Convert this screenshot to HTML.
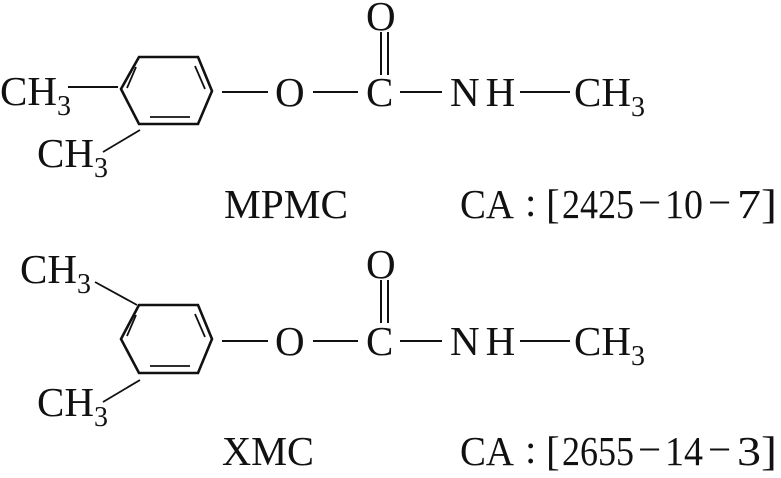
<!DOCTYPE html>
<html><head><meta charset="utf-8"><style>
html,body{margin:0;padding:0;background:#fff;}
svg{display:block;}
text{font-family:"Liberation Serif",serif;fill:#111;}
</style></head><body>
<svg width="781" height="478" viewBox="0 0 781 478" xmlns="http://www.w3.org/2000/svg">
<g stroke="#111" fill="none" stroke-width="2.6" stroke-linejoin="miter">
  <polygon points="139,57 198,57 212,91 198,124 139,124 121,89"/>
  <line x1="136" y1="67" x2="127" y2="88" stroke-width="1.8"/>
  <line x1="195" y1="66" x2="205" y2="89" stroke-width="1.8"/>
  <line x1="150" y1="117" x2="190" y2="117" stroke-width="1.8"/>
  <line x1="68" y1="87" x2="118" y2="87" stroke-width="2"/>
  <line x1="140" y1="130" x2="103" y2="152" stroke-width="1.8"/>
  <line x1="222" y1="92" x2="268" y2="92" stroke-width="2"/>
  <line x1="313" y1="92" x2="358" y2="92" stroke-width="2"/>
  <line x1="381" y1="32" x2="381" y2="75" stroke-width="2"/>
  <line x1="388" y1="32" x2="388" y2="75" stroke-width="2"/>
  <line x1="400" y1="92" x2="442" y2="92" stroke-width="2"/>
  <line x1="520" y1="92" x2="570" y2="92" stroke-width="2"/>

  <polygon points="139,305 198,305 212,339 198,373 139,373 121,339"/>
  <line x1="136" y1="315" x2="127" y2="336" stroke-width="1.8"/>
  <line x1="195" y1="314" x2="205" y2="337" stroke-width="1.8"/>
  <line x1="150" y1="366" x2="190" y2="366" stroke-width="1.8"/>
  <line x1="95" y1="282" x2="137" y2="305" stroke-width="1.8"/>
  <line x1="140" y1="380" x2="103" y2="402" stroke-width="1.8"/>
  <line x1="222" y1="341" x2="268" y2="341" stroke-width="2"/>
  <line x1="313" y1="341" x2="358" y2="341" stroke-width="2"/>
  <line x1="381" y1="280" x2="381" y2="323" stroke-width="2"/>
  <line x1="388" y1="280" x2="388" y2="323" stroke-width="2"/>
  <line x1="400" y1="341" x2="442" y2="341" stroke-width="2"/>
  <line x1="520" y1="341" x2="570" y2="341" stroke-width="2"/>
</g>
<g font-size="41">
  <text x="0" y="105">CH<tspan font-size="28" dy="10">3</tspan></text>
  <text x="37" y="167">CH<tspan font-size="28" dy="10">3</tspan></text>
  <text x="275" y="106">O</text>
  <text x="366" y="30">O</text>
  <text x="366" y="106">C</text>
  <text x="450" y="106" letter-spacing="6">NH</text>
  <text x="574" y="106">CH<tspan font-size="28" dy="10">3</tspan></text>
  <text x="224" y="218" textLength="124" lengthAdjust="spacingAndGlyphs">MPMC</text>
  <g>
    <text x="460" y="218" textLength="54" lengthAdjust="spacingAndGlyphs">CA</text><text x="525" y="216">:</text><text x="546" y="218">[</text>
    <text x="562" y="218" textLength="72" lengthAdjust="spacingAndGlyphs">2425</text><text x="638" y="216">−</text><text x="665" y="218" textLength="38" lengthAdjust="spacingAndGlyphs">10</text>
    <text x="708" y="216">−</text><text x="737" y="218" textLength="40" lengthAdjust="spacingAndGlyphs">7]</text>
  </g>

  <text x="20" y="283">CH<tspan font-size="28" dy="10">3</tspan></text>
  <text x="37" y="416">CH<tspan font-size="28" dy="10">3</tspan></text>
  <text x="275" y="355">O</text>
  <text x="366" y="278">O</text>
  <text x="366" y="355">C</text>
  <text x="450" y="355" letter-spacing="6">NH</text>
  <text x="574" y="355">CH<tspan font-size="28" dy="10">3</tspan></text>
  <text x="222" y="465" textLength="92" lengthAdjust="spacingAndGlyphs">XMC</text>
  <g>
    <text x="460" y="465" textLength="54" lengthAdjust="spacingAndGlyphs">CA</text><text x="525" y="463">:</text><text x="546" y="465">[</text>
    <text x="562" y="465" textLength="72" lengthAdjust="spacingAndGlyphs">2655</text><text x="638" y="463">−</text><text x="665" y="465" textLength="38" lengthAdjust="spacingAndGlyphs">14</text>
    <text x="708" y="463">−</text><text x="737" y="465" textLength="40" lengthAdjust="spacingAndGlyphs">3]</text>
  </g>
</g>
</svg>
</body></html>
